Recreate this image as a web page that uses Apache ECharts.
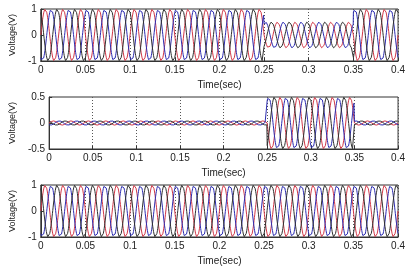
<!DOCTYPE html>
<html><head><meta charset="utf-8">
<script src="https://cdn.jsdelivr.net/npm/echarts@6/dist/echarts.min.js"></script>
<style>html,body{margin:0;padding:0;background:#fff}#c{width:408px;height:267px}</style>
</head><body><div id="c"></div>
<script>
// Segment boundaries (sec) and per-segment peak amplitudes for each panel
const segmentBounds = [0, 0.25, 0.35, 0.4];
const supplyAmp   = [1.0, 0.5, 1.0];     // top: supply voltage with sag
const injectedAmp = [0.04, 0.5, 0.04];   // middle: injected voltage
const loadAmp     = [1.0, 1.0, 1.0];     // bottom: load voltage
const frequencyHz = 50;
const phaseDeg    = [0, -120, 120];
const phaseColors = ['#d03848', '#2c2cb0', '#303030'];
const xTicks = [0, 0.05, 0.1, 0.15, 0.2, 0.25, 0.3, 0.35, 0.4];
const sampleStep = 0.0002;

function ampAt(amps, t) {
  for (let i = 0; i < amps.length; i++) if (t < segmentBounds[i + 1]) return amps[i];
  return amps[amps.length - 1];
}
function wave(amps, ph) {
  const out = [];
  const n = Math.round(0.4 / sampleStep);
  for (let k = 0; k <= n; k++) {
    const t = k * sampleStep;
    out.push([t, ampAt(amps, t) * Math.sin(2 * Math.PI * frequencyHz * t + ph * Math.PI / 180)]);
  }
  return out;
}
const panels = [supplyAmp, injectedAmp, loadAmp];
const yRanges = [[-1, 1, 1], [-0.5, 0.5, 0.5], [-1, 1, 1]];
const tops = [9, 97, 185];
const txt = '#222';
const fmt = v => String(parseFloat(v.toFixed(3)));

const grid = [], xAxis = [], yAxis = [], series = [];
panels.forEach((amps, i) => {
  grid.push({left: 30, right: 8, top: tops[i], height: 52, show: true, borderColor: '#333', borderWidth: 1, backgroundColor: '#fff'});
  xAxis.push({type: 'value', gridIndex: i, min: 0, max: 0.4, interval: 0.05,
    name: 'Time(sec)', nameLocation: 'middle', nameGap: 19,
    nameTextStyle: {color: txt, fontSize: 10, fontFamily: 'Liberation Sans'},
    axisLine: {show: true, onZero: false, lineStyle: {color: '#333'}},
    axisTick: {show: true, inside: true, length: 3, lineStyle: {color: '#333'}},
    axisLabel: {color: txt, fontSize: 10, fontFamily: 'Liberation Sans', margin: 4, formatter: fmt},
    splitLine: {show: true, lineStyle: {color: '#555', type: [1, 2], width: 1}}});
  const r = yRanges[i];
  yAxis.push({type: 'value', gridIndex: i, min: r[0], max: r[1], interval: r[2],
    name: 'Voltage(V)', nameLocation: 'middle', nameGap: i === 1 ? 26 : 20,
    nameTextStyle: {color: txt, fontSize: 9, fontFamily: 'Liberation Sans'},
    axisLine: {show: true, onZero: false, lineStyle: {color: '#333'}},
    axisTick: {show: true, inside: true, length: 3, lineStyle: {color: '#333'}},
    axisLabel: {color: txt, fontSize: 10, fontFamily: 'Liberation Sans', margin: 4, formatter: fmt},
    splitLine: {show: false}});
  phaseDeg.forEach((ph, j) => {
    series.push({type: 'line', xAxisIndex: i, yAxisIndex: i, data: wave(amps, ph),
      showSymbol: false, symbol: 'none', animation: false, silent: true,
      lineStyle: {color: phaseColors[j], width: 1}, z: 3});
  });
});

const chart = echarts.init(document.getElementById('c'), null, {renderer: 'canvas'});
chart.setOption({animation: false, grid, xAxis, yAxis, series});
</script>
</body></html>
